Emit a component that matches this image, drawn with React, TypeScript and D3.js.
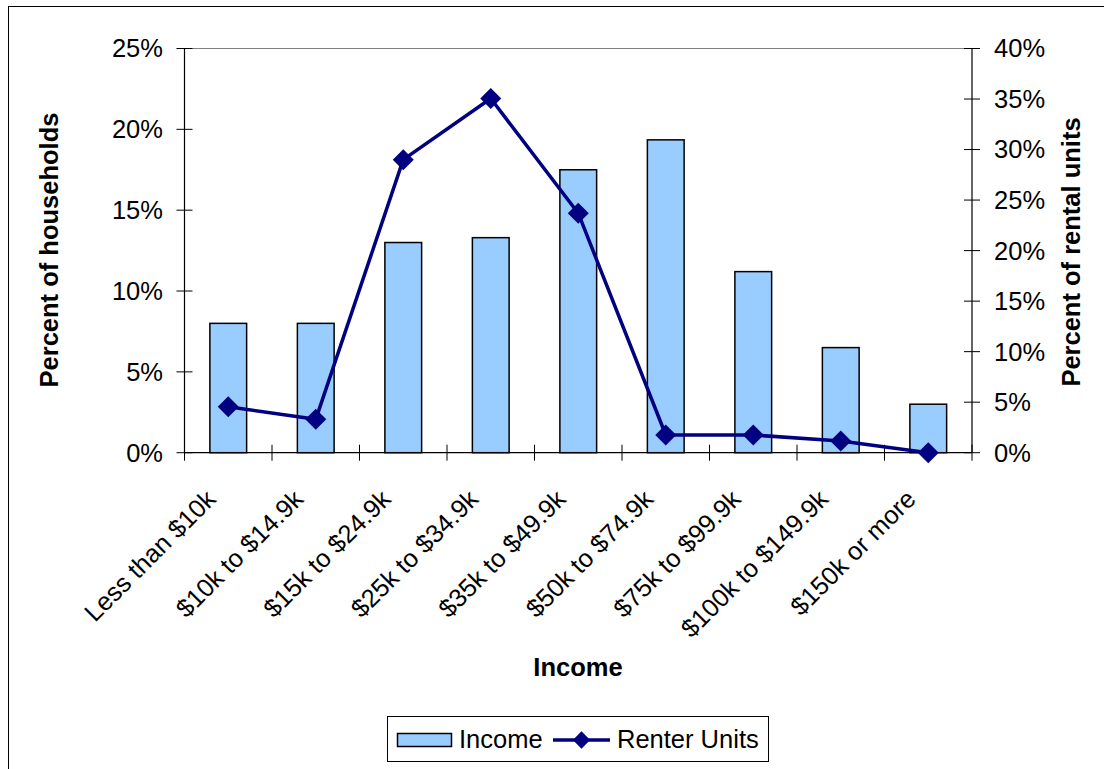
import React from "react";
import * as d3 from "d3";

const categories = [
  "Less than $10k",
  "$10k to $14.9k",
  "$15k to $24.9k",
  "$25k to $34.9k",
  "$35k to $49.9k",
  "$50k to $74.9k",
  "$75k to $99.9k",
  "$100k to $149.9k",
  "$150k or more",
];
const incomeValues = [8.0, 8.0, 13.0, 13.3, 17.5, 19.35, 11.2, 6.5, 3.0];
const renterValues = [4.55, 3.3, 29.0, 35.05, 23.7, 1.75, 1.75, 1.15, 0.0];
const leftTicks = [0, 5, 10, 15, 20, 25];
const rightTicks = [0, 5, 10, 15, 20, 25, 30, 35, 40];

const W = 1104;
const H = 769;
const plot = { left: 184.5, right: 972, top: 48.5, bottom: 452.7 };
const FONT = "Arial, 'Liberation Sans', sans-serif";
const FS = 25.5;
const BAR_FILL = "#99CCFF";
const LINE_COLOR = "#000080";

export default function App() {
  const x = d3
    .scaleBand<string>()
    .domain(categories)
    .range([plot.left, plot.right])
    .paddingInner(0)
    .paddingOuter(0);
  const yL = d3.scaleLinear().domain([0, 25]).range([plot.bottom, plot.top]);
  const yR = d3.scaleLinear().domain([0, 40]).range([plot.bottom, plot.top]);
  const barW = x.bandwidth() * 0.42;
  const cx = (c: string) => (x(c) as number) + x.bandwidth() / 2;

  const line = d3
    .line<number>()
    .x((_, i) => cx(categories[i]))
    .y((d) => yR(d));
  const diamond = d3.symbol().type(d3.symbolSquare).size(220)() as string;
  const legendDiamond = d3.symbol().type(d3.symbolSquare).size(150)() as string;

  const catTickXs = d3.range(categories.length + 1).map((i) => plot.left + i * x.step());

  return (
    <svg
      width={W}
      height={H}
      style={{ position: "absolute", left: 0, top: 0, background: "#fff" }}
      fontFamily={FONT}
    >
      <rect x={0} y={0} width={W} height={H} fill="#fff" />
      {/* outer border */}
      <rect x={8.5} y={6.5} width={W + 20} height={H + 20} fill="none" stroke="#000" strokeWidth={1} />

      {/* plot top border */}
      <line x1={plot.left} x2={plot.right} y1={plot.top} y2={plot.top} stroke="#808080" strokeWidth={1.2} />

      {/* bars */}
      {categories.map((c, i) => (
        <rect
          key={c}
          x={cx(c) - barW / 2}
          y={yL(incomeValues[i])}
          width={barW}
          height={plot.bottom - yL(incomeValues[i])}
          fill={BAR_FILL}
          stroke="#000"
          strokeWidth={1.5}
        />
      ))}

      {/* axes */}
      <line x1={plot.left} x2={plot.left} y1={plot.top} y2={plot.bottom} stroke="#000" strokeWidth={1.2} />
      <line x1={plot.right} x2={plot.right} y1={plot.top} y2={plot.bottom} stroke="#000" strokeWidth={1.2} />
      <line x1={plot.left} x2={plot.right} y1={plot.bottom} y2={plot.bottom} stroke="#000" strokeWidth={1.2} />

      {leftTicks.map((t) => (
        <g key={"l" + t}>
          <line x1={plot.left - 8} x2={plot.left + 8} y1={yL(t)} y2={yL(t)} stroke="#000" strokeWidth={1} />
          <text x={163} y={yL(t)} dy="0.35em" textAnchor="end" fontSize={FS} fill="#000">
            {t}%
          </text>
        </g>
      ))}
      {rightTicks.map((t) => (
        <g key={"r" + t}>
          <line x1={plot.right - 8} x2={plot.right + 8} y1={yR(t)} y2={yR(t)} stroke="#000" strokeWidth={1} />
          <text x={994} y={yR(t)} dy="0.35em" textAnchor="start" fontSize={FS} fill="#000">
            {t}%
          </text>
        </g>
      ))}
      {catTickXs.map((tx, i) => (
        <line key={"c" + i} x1={tx} x2={tx} y1={plot.bottom - 8} y2={plot.bottom + 8} stroke="#000" strokeWidth={1} />
      ))}

      {/* category labels */}
      {categories.map((c) => (
        <text
          key={"t" + c}
          transform={`translate(${cx(c) - 11},${plot.bottom + 48}) rotate(-45)`}
          textAnchor="end"
          fontSize={FS}
          fill="#000"
        >
          {c}
        </text>
      ))}

      {/* line series */}
      <path d={line(renterValues) as string} fill="none" stroke={LINE_COLOR} strokeWidth={3.5} strokeLinejoin="round" />
      {renterValues.map((v, i) => (
        <path
          key={"m" + i}
          d={diamond}
          transform={`translate(${cx(categories[i])},${yR(v)}) rotate(45)`}
          fill={LINE_COLOR}
        />
      ))}

      {/* axis titles */}
      <text transform={`translate(58,250) rotate(-90)`} textAnchor="middle" fontSize={FS} fontWeight="bold" fill="#000">
        Percent of households
      </text>
      <text transform={`translate(1080,252) rotate(-90)`} textAnchor="middle" fontSize={FS} fontWeight="bold" fill="#000">
        Percent of rental units
      </text>
      <text x={578} y={676} textAnchor="middle" fontSize={FS} fontWeight="bold" fill="#000">
        Income
      </text>

      {/* legend */}
      <rect x={387.5} y={716.5} width={381} height={45} fill="#fff" stroke="#000" strokeWidth={1} />
      <rect x={397.5} y={733.5} width={54} height={13} fill={BAR_FILL} stroke="#000" strokeWidth={1.5} />
      <text x={459} y={748} fontSize={FS} fill="#000">
        Income
      </text>
      <line x1={553} x2={610} y1={740} y2={740} stroke={LINE_COLOR} strokeWidth={3.5} />
      <path d={legendDiamond} transform="translate(581.5,740) rotate(45)" fill={LINE_COLOR} />
      <text x={617} y={748} fontSize={FS} fill="#000">
        Renter Units
      </text>
    </svg>
  );
}
